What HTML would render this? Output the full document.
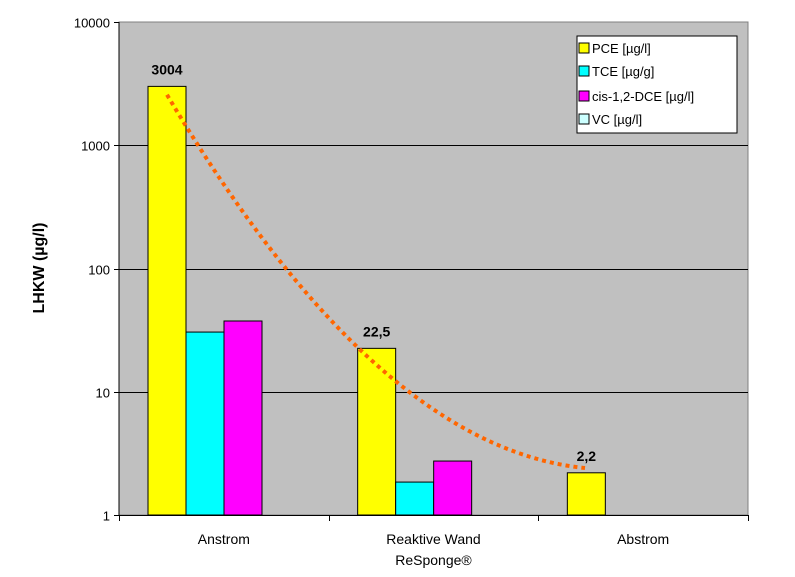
<!DOCTYPE html>
<html><head><meta charset="utf-8"><style>
body{margin:0;background:#fff;}
svg{display:block;font-family:"Liberation Sans",Arial,sans-serif;}
</style></head><body>
<svg id="chart" width="795" height="577">
<rect x="119" y="22" width="629" height="493" fill="#c0c0c0" stroke="#808080"/>
<g id="grid"></g><g id="bars"></g><g id="trend"></g><g id="axes"></g>
<text x="0" y="0" transform="translate(44,268) rotate(-90)" text-anchor="middle" font-size="16" font-weight="bold">LHKW (µg/l)</text>
<g>
<rect x="577" y="36" width="160" height="97" fill="#fff" stroke="#000"/>
<rect x="579" y="43" width="10" height="10" fill="#ffff00" stroke="#000"/>
<text x="592" y="53" font-size="13">PCE [µg/l]</text>
<rect x="579" y="66" width="10" height="10" fill="#00ffff" stroke="#000"/>
<text x="592" y="76" font-size="13">TCE [µg/g]</text>
<rect x="579" y="91" width="10" height="10" fill="#ff00ff" stroke="#000"/>
<text x="592" y="101" font-size="13">cis-1,2-DCE [µg/l]</text>
<rect x="579" y="114" width="10" height="10" fill="#ccffff" stroke="#000"/>
<text x="592" y="124" font-size="13">VC [µg/l]</text>
</g>
</svg>
<script>
const categories=[["Anstrom"],["Reaktive Wand","ReSponge®"],["Abstrom"]];
const pce=[3004,22.5,2.2];
const tce=[30.5,1.85,0];
const dce=[37.5,2.74,0];
const vc=[0,0,0];
const pceLabels=["3004","22,5","2,2"];
const yTicks=[1,10,100,1000,10000];
const trendValues=[2570,16.5,2.4];

const NS="http://www.w3.org/2000/svg";
const L=119,R=748,T=22,B=515;
const catW=(R-L)/categories.length, barW=38, off=29;
const y=v=>B-(Math.log10(v)-0)/4*(B-T);
function mk(tag,attrs,parent,text){const e=document.createElementNS(NS,tag);for(const k in attrs)e.setAttribute(k,attrs[k]);if(text!=null)e.textContent=text;document.getElementById(parent).appendChild(e);return e;}
yTicks.forEach(t=>{
 const yy=Math.round(y(t))+0.5;
 if(t>1&&t<10000){const g=mk('line',{x1:L,x2:R,y1:yy,y2:yy,stroke:'#000'},'grid');
 
 }
 const tk=mk('line',{x1:L-5,x2:L,y1:yy,y2:yy,stroke:'#000'},'axes');
 
 
 const tl=mk('text',{x:L-9,y:yy+5,'text-anchor':'end','font-size':13},'axes',String(t));
 
 
});
mk('line',{x1:L,x2:L,y1:T,y2:B,stroke:'#000'},'axes');
mk('line',{x1:L,x2:R,y1:B+0.5,y2:B+0.5,stroke:'#000'},'axes');
for(let i=0;i<=categories.length;i++){const x=Math.round(L+i*catW)+0.5;mk('line',{x1:x,x2:x,y1:B,y2:B+6,stroke:'#000'},'axes');}
categories.forEach((c,i)=>{c.forEach((ln,j)=>{const t=mk('text',{x:L+(i+0.5)*catW,y:544+j*21,'text-anchor':'middle','font-size':14},'axes',ln);
 
 });});
const series=[[pce,'#ffff00','pce'],[tce,'#00ffff','tce'],[dce,'#ff00ff','dce'],[vc,'#ccffff','vc']];
series.forEach(([vals,col,nm],s)=>{vals.forEach((v,i)=>{if(!(v>0))return;
 const x=L+i*catW+off+s*barW, top=y(v);
 const r=mk('rect',{x:x,y:top,width:barW,height:B-top,fill:col,stroke:'#000'},'bars');
 
 
 if(s===0){const t=mk('text',{x:x+barW/2,y:top-12,'text-anchor':'middle','font-size':14,'font-weight':'bold'},'bars',pceLabels[i]);
 
 }
});});
// quadratic fit in log space through trend values
const xs=trendValues.map((_,i)=>L+i*catW+off+barW/2);
const ls=trendValues.map(v=>Math.log10(v));
function lag(x){let s=0;for(let i=0;i<3;i++){let p=ls[i];for(let j=0;j<3;j++)if(j!==i)p*=(x-xs[j])/(xs[i]-xs[j]);s+=p;}return s;}
let d='';for(let x=xs[0];x<=xs[2];x+=2){d+=(d?'L':'M')+x+','+(B-lag(x)/4*(B-T));}
const tr=mk('path',{d:d,fill:'none',stroke:'#ff6600','stroke-width':4,'stroke-dasharray':'4 4'},'trend');


</script>
</body></html>
